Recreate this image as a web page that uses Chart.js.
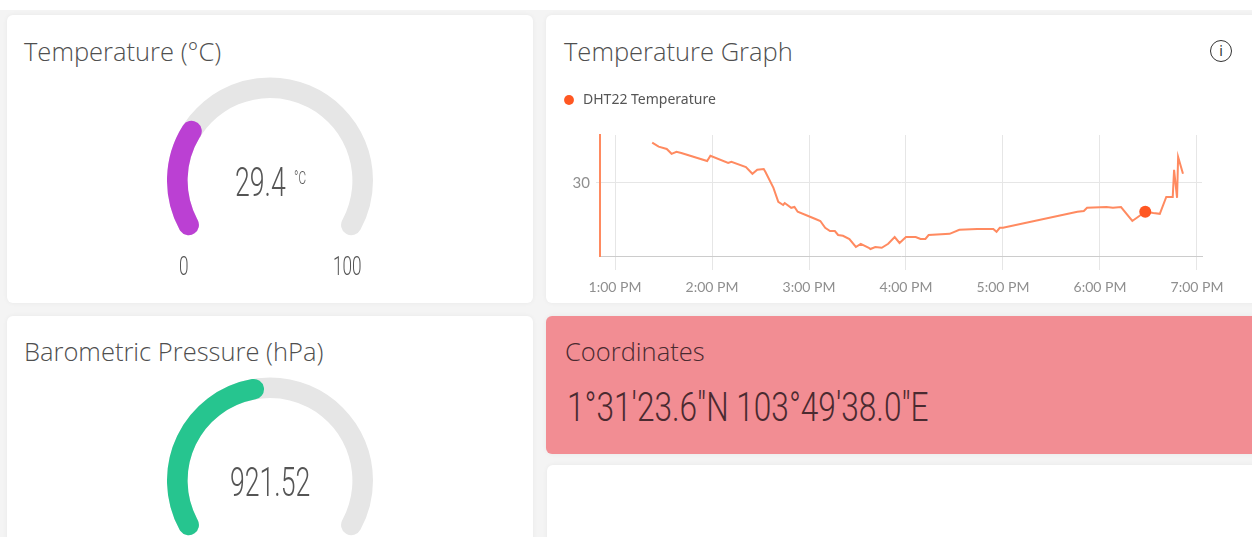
<!DOCTYPE html>
<html>
<head>
<meta charset="utf-8">
<script src="https://cdn.jsdelivr.net/npm/chart.js"></script>
<style>
body{margin:0;width:1252px;height:537px;overflow:hidden;background:#fff;font-family:"Noto Sans",sans-serif;position:relative}
.page{position:absolute;left:0;top:10px;width:1252px;height:527px;background:#f4f4f4}
.card{position:absolute;background:#fff;border-radius:6px;box-shadow:0 0 5px rgba(0,0,0,.05)}
.title{position:absolute;font-family:"Open Sans","Noto Sans",sans-serif;font-weight:300;font-size:25.5px;line-height:25px;color:#4f4f4f;white-space:nowrap}
.gauge{position:absolute;width:206px;height:163px}
.num{position:absolute;font-family:Roboto,sans-serif;font-weight:300;color:#555;white-space:nowrap;transform-origin:0 0}
.info{position:absolute;left:1210px;top:40px;width:20px;height:20px;border:1.5px solid #333;border-radius:50%;font:14px/20px "Noto Sans",sans-serif;text-align:center;color:#333}
#lineBox{position:absolute;left:552px;top:81px;width:700px;height:220px}
</style>
</head>
<body>
<div class="page"></div>

<div class="card" style="left:7px;top:15px;width:526px;height:288px">
  <div class="title" style="left:17px;top:24px">Temperature (°C)</div>
</div>
<div class="card" style="left:546px;top:15px;width:720px;height:288px">
  <div class="title" style="left:18px;top:24px">Temperature Graph</div>
</div>
<div class="card" style="left:7px;top:316px;width:526px;height:240px">
  <div class="title" style="left:17px;top:23px">Barometric Pressure (hPa)</div>
</div>
<div class="card" style="left:546px;top:316px;width:720px;height:138px;background:#f28d93">
  <div class="title" style="left:19px;top:23px;color:#4a2a30">Coordinates</div>
</div>
<div class="card" style="left:547px;top:465px;width:720px;height:90px"></div>

<div class="info">i</div>

<div class="gauge" style="left:167px;top:77px"><canvas id="tempTrack"></canvas></div>
<div class="gauge" style="left:167px;top:77px"><canvas id="tempGauge"></canvas></div>
<div class="gauge" style="left:167px;top:377px"><canvas id="pressTrack"></canvas></div>
<div class="gauge" style="left:167px;top:377px"><canvas id="pressGauge"></canvas></div>

<div class="num" id="tempText" style="left:235px;top:162px;font-size:41px;line-height:41px;transform:scaleX(.65)"></div>
<div class="num" style="left:294px;top:169px;font-size:18px;line-height:18px;transform:scaleX(.65)">°C</div>
<div class="num" id="tempMinText" style="left:179px;top:253px;font-size:26px;line-height:26px;transform:scaleX(.66)"></div>
<div class="num" id="tempMaxText" style="left:333px;top:253px;font-size:26px;line-height:26px;transform:scaleX(.66)"></div>
<div class="num" id="pressText" style="left:230px;top:462px;font-size:41px;line-height:41px;transform:scaleX(.65)"></div>
<div class="num" id="coordText" style="left:567px;top:388px;font-size:40px;line-height:40px;color:#4a2a30;transform:scaleX(.79)"></div>

<div id="lineBox"><canvas id="tempChart"></canvas></div>

<script>
// gauge readings
const tempValue = 29.4
const tempMin = 0
const tempMax = 100
const pressValue = 921.52
const pressMin = 0
const pressMax = 1900
const coordinates = '1°31\'23.6"N 103°49\'38.0"E'

// DHT22 log (time of day, °C)
const times = ['13:23','13:27','13:32','13:35','13:38','13:41','13:57','13:59','14:10','14:12',
  '14:21','14:25','14:28','14:32','14:33','14:38','14:41','14:44','14:45','14:49',
  '14:51','14:53','15:01','15:04','15:07','15:10','15:13','15:16','15:18','15:21',
  '15:25','15:29','15:32','15:37','15:38','15:41','15:45','15:49','15:53','15:56',
  '16:00','16:06','16:09','16:12','16:14','16:27','16:33','16:44','16:54','16:56',
  '16:58','17:00','17:46','17:50','17:52','18:04','18:08','18:13','18:20','18:28',
  '18:33','18:37','18:41','18:45','18:45:50','18:47:40','18:48:20','18:51:20']
const temps = [31.01,30.91,30.85,30.73,30.78,30.75,30.55,30.68,30.50,30.53,
  30.40,30.23,30.33,30.35,30.28,29.88,29.53,29.45,29.50,29.38,
  29.40,29.28,29.15,29.10,29.05,28.88,28.80,28.80,28.70,28.68,
  28.60,28.40,28.48,28.38,28.35,28.40,28.38,28.48,28.65,28.50,
  28.65,28.65,28.60,28.60,28.70,28.73,28.83,28.85,28.85,28.78,
  28.88,28.88,29.28,29.30,29.38,29.40,29.38,29.40,29.05,29.28,
  29.25,29.23,29.65,29.65,30.33,29.63,30.65,30.23]
const markerTime = '18:28'

const tickTimes = ['13:00','14:00','15:00','16:00','17:00','18:00','19:00']
const tickLabels = ['1:00 PM','2:00 PM','3:00 PM','4:00 PM','5:00 PM','6:00 PM','7:00 PM']
const xStart = '12:50:43'
const xEnd = '19:03:06'
const yTicks = [30]
const yMin = 28.175
const yMax = 31.2

const toMinutes = t => { const p = t.split(':').map(Number); return p[0]*60 + p[1] + (p[2] || 0)/60 }

document.getElementById('tempText').textContent = tempValue
document.getElementById('tempMinText').textContent = tempMin
document.getElementById('tempMaxText').textContent = tempMax
document.getElementById('pressText').textContent = pressValue.toFixed(2)
document.getElementById('coordText').textContent = coordinates

const gaugeBase = {
  responsive: true,
  maintainAspectRatio: false,
  animation: false,
  events: [],
  rotation: -125,
  circumference: 250,
  cutout: '80%',
  plugins: { legend: { display: false }, tooltip: { enabled: false } }
}

function gauge(id, data, colors){
  new Chart(id, {
    type: 'doughnut',
    data: { datasets: [{ data: data, backgroundColor: colors, borderWidth: 0, borderRadius: 12 }] },
    options: gaugeBase
  })
}

gauge('tempTrack', [1], ['#e6e6e6'])
gauge('tempGauge', [tempValue - tempMin, tempMax - tempValue], ['#bb40d3', 'rgba(0,0,0,0)'])
gauge('pressTrack', [1], ['#e6e6e6'])
gauge('pressGauge', [pressValue - pressMin, pressMax - pressValue], ['#26c58f', 'rgba(0,0,0,0)'])

const points = times.map((t, i) => ({ x: toMinutes(t), y: temps[i] }))
const radii = times.map(t => t === markerTime ? 6 : 0)

// keep the plot area where the dashboard widget has it
const legendHeight = {
  id: 'legendHeight',
  beforeInit(chart){
    const fit = chart.legend.fit
    chart.legend.fit = function(){ fit.call(this); this.height = 52 }
  }
}

new Chart('tempChart', {
  type: 'line',
  data: {
    datasets: [{
      label: 'DHT22 Temperature',
      data: points,
      borderColor: '#ff8a60',
      backgroundColor: '#ff5722',
      borderWidth: 2,
      tension: 0,
      pointRadius: radii,
      pointBackgroundColor: '#ff5722',
      pointBorderWidth: 0
    }]
  },
  options: {
    responsive: true,
    maintainAspectRatio: false,
    animation: false,
    events: [],
    layout: { padding: { top: 2, right: 50 } },
    plugins: {
      tooltip: { enabled: false },
      legend: {
        position: 'top',
        align: 'start',
        labels: {
          usePointStyle: true,
          pointStyle: 'circle',
          boxWidth: 16,
          boxHeight: 7,
          padding: 10,
          color: '#555',
          font: { family: 'Noto Sans', size: 14 }
        }
      }
    },
    scales: {
      x: {
        type: 'linear',
        min: toMinutes(xStart),
        max: toMinutes(xEnd),
        afterBuildTicks: ax => { ax.ticks = tickTimes.map(t => ({ value: toMinutes(t) })) },
        afterFit: ax => { ax.height = 45 },
        ticks: {
          autoSkip: false,
          maxRotation: 0,
          padding: 9,
          color: '#8f8f8f',
          font: { family: 'Lato', size: 14 },
          callback: (v, i) => tickLabels[i]
        },
        grid: { color: '#e6e6e6', tickColor: '#e6e6e6', tickLength: 14 },
        border: { color: '#cccccc' }
      },
      y: {
        min: yMin,
        max: yMax,
        afterBuildTicks: ax => { ax.ticks = yTicks.map(v => ({ value: v })) },
        afterFit: ax => { ax.width = 48 },
        ticks: { color: '#8f8f8f', padding: 6, font: { family: 'Lato', size: 15 } },
        grid: { color: '#e6e6e6', tickLength: 4 },
        border: { color: '#ff8a60', width: 2 }
      }
    }
  },
  plugins: [legendHeight]
})
</script>
</body>
</html>
